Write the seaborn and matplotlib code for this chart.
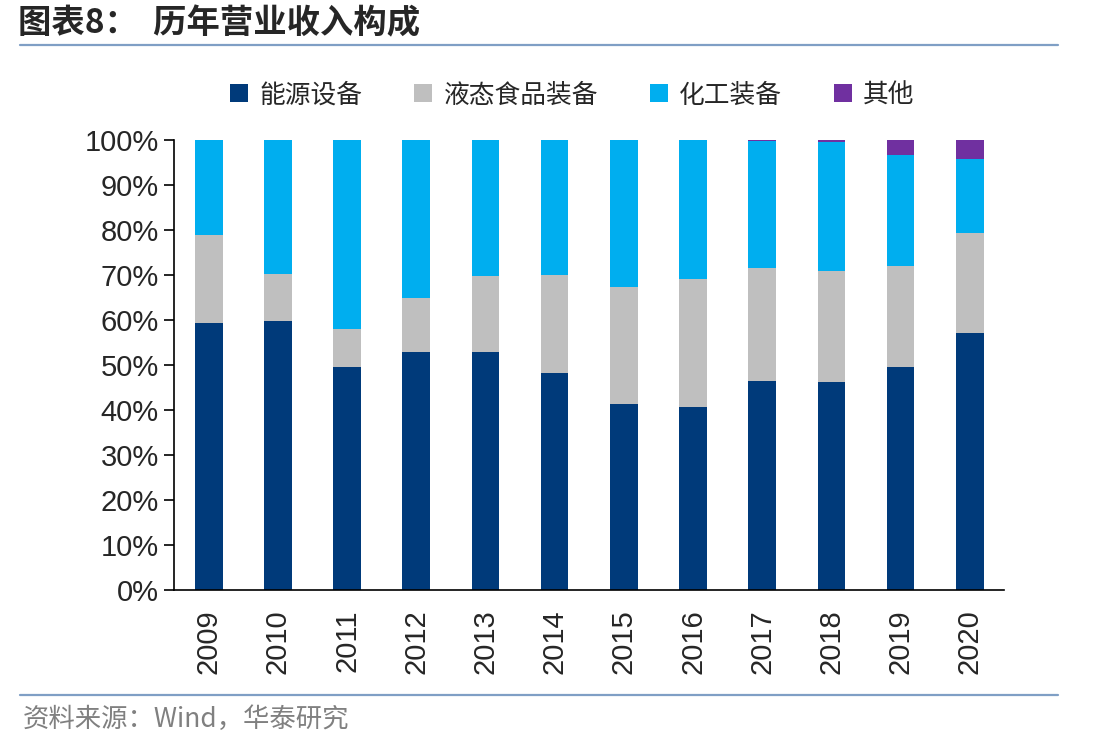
import numpy as np
import pandas as pd
import matplotlib
matplotlib.use("Agg")
import matplotlib.pyplot as plt
import seaborn as sns
from matplotlib.patches import Patch
from matplotlib.lines import Line2D

years = ["2009", "2010", "2011", "2012", "2013", "2014",
         "2015", "2016", "2017", "2018", "2019", "2020"]
energy = [59.4, 59.8, 49.6, 52.9, 52.9, 48.2, 41.3, 40.7, 46.5, 46.3, 49.6, 57.0]
food = [19.5, 10.4, 8.4, 12.0, 16.8, 21.8, 26.1, 28.4, 25.1, 24.6, 22.5, 22.3]
chem = [21.1, 29.8, 42.0, 35.1, 30.3, 30.0, 32.6, 30.9, 28.2, 28.7, 24.6, 16.5]
other = [0.0, 0.0, 0.0, 0.0, 0.0, 0.0, 0.0, 0.0, 0.2, 0.4, 3.3, 4.2]

series_names = ["能源设备", "液态食品装备", "化工装备", "其他"]
colors = ["#003A7A", "#BFBFBF", "#00AEEF", "#7030A0"]

sns.set_theme(style="white")
plt.rcParams["font.family"] = ["Liberation Sans", "Noto Sans CJK SC", "DejaVu Sans"]

fig = plt.figure(figsize=(11.16, 7.51), dpi=100)
ax = fig.add_axes([0.156, 0.2144, 0.744, 0.5992])

# stack by drawing cumulative totals from the top down
stack = np.cumsum(np.array([energy, food, chem, other]), axis=0)
for i in range(3, -1, -1):
    df = pd.DataFrame({"year": years, "value": stack[i]})
    sns.barplot(data=df, x="year", y="value", color=colors[i], width=0.4,
                saturation=1, ax=ax, linewidth=0)

ax.set_xlim(-0.5, len(years) - 0.5)
ax.set_ylim(0, 100)
ax.set_yticks(range(0, 101, 10))
ax.set_yticklabels([f"{v}%" for v in range(0, 101, 10)], fontsize=21)
ax.set_xticks(range(len(years)))
ax.set_xticklabels(years, rotation=90, fontsize=21)
ax.set_xticks(np.arange(-0.5, len(years), 1), minor=True)
ax.tick_params(axis="x", which="major", length=0, pad=14)
ax.tick_params(axis="x", which="minor", length=7, width=1.2, color="black", direction="out")
ax.tick_params(axis="y", length=7, width=1.2, color="black", direction="out", left=True, pad=4)
ax.set_xlabel("")
ax.set_ylabel("")
for side in ["top", "right"]:
    ax.spines[side].set_visible(False)
for side in ["left", "bottom"]:
    ax.spines[side].set_color("black")
    ax.spines[side].set_linewidth(1.2)

handles = [Patch(facecolor=c, edgecolor="none") for c in colors]
fig.legend(handles, series_names, loc="center", bbox_to_anchor=(0.513, 0.873),
           ncol=4, frameon=False, handlelength=0.7, handleheight=0.7,
           handletextpad=0.45, columnspacing=2.0,
           prop={"family": "Noto Sans CJK SC", "size": 18.5})

fig.text(0.016, 0.968, "图表8：  历年营业收入构成", fontsize=24, fontweight="bold",
         family=["Noto Sans CJK SC"], va="center", ha="left")
fig.add_artist(Line2D([20 / 1116, 1058 / 1116], [1 - 45 / 751] * 2,
                      color="#7F9FC5", lw=1.6))
fig.add_artist(Line2D([20 / 1116, 1058 / 1116], [1 - 695 / 751] * 2,
                      color="#7F9FC5", lw=1.6))
fig.text(0.02, 1 - 719 / 751, "资料来源：Wind，华泰研究", fontsize=19, color="#808080",
         family=["Noto Sans CJK SC", "Liberation Sans"], va="center", ha="left")

fig.savefig("out.png", dpi=100)
